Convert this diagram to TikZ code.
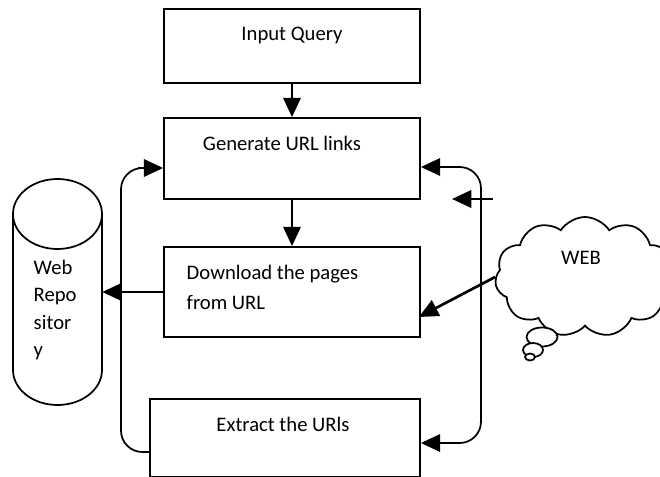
\documentclass[tikz,border=0pt]{standalone}
\usepackage{fontspec}
\setmainfont{Carlito}
\usetikzlibrary{arrows.meta,shapes.symbols,calc}
\begin{document}
\begin{tikzpicture}[x=0.75pt,y=-0.75pt,
  box/.style={draw, line width=1.3pt, rectangle, inner sep=0pt},
  lbl/.style={font=\fontsize{15.5}{23}\selectfont},
  arr/.style={line width=2pt, -{Triangle[length=14.5pt,width=13pt]}},
  loopline/.style={line width=1.3pt, rounded corners=16pt}]
\useasboundingbox (0,0) rectangle (660,477);
% boxes
\node[box, minimum width=192pt, minimum height=55.5pt,
  label={[lbl, yshift=8pt]center:Input Query}] (iq) at (292,46) {};
\node[box, minimum width=192pt, minimum height=60.75pt,
  label={[lbl, yshift=11.5pt, xshift=-7.5pt]center:Generate URL links}] (gen) at (292,158.5) {};
\node[box, minimum width=192pt, minimum height=67.5pt] (dl) at (292,292) {};
\node[lbl, align=left, anchor=west] (dltext) at (182,287.5) {Download the pages\\from URL};
\node[box, minimum width=202.5pt, minimum height=58.5pt,
  label={[lbl, yshift=10pt, xshift=-1.5pt]center:Extract the URls}] (ext) at (285,438) {};
% repository
\node[minimum width=66.75pt, minimum height=169.5pt, inner sep=0pt] (repo) at (57.5,292) {};
\draw[line width=1.3pt] (57.5,214) ellipse [x radius=44.5, y radius=35];
\draw[line width=1.3pt] (13,214) -- (13,370) arc[start angle=180, end angle=0, x radius=44.5, y radius=35] -- (102,214);
\node[lbl, align=left, anchor=west, font=\fontsize{15.5}{20.5}\selectfont] (repotext) at (29,310) {Web\\Repo\\sitor\\y};
% cloud
\node[cloud, draw, line width=1.3pt, fill=white, cloud puffs=11, cloud puff arc=115,
  cloud ignores aspect, minimum width=135pt, minimum height=90pt,
  label={[lbl, yshift=14pt, xshift=-3pt]center:WEB}] (web) at (585,277) {};
\draw[line width=1.3pt, fill=white] (542,337) ellipse [x radius=15.5, y radius=9.5];
\draw[line width=1.3pt, fill=white] (533,350) ellipse [x radius=10, y radius=7];
\draw[line width=1.3pt, fill=white] (530,357) ellipse [x radius=5, y radius=3.5];
% arrows
\draw[arr] (iq) -- (gen);
\draw[arr] (gen) -- (dl);
\draw[arr] (dl.west) -- (repo.east);
\draw[arr] (web.west) -- ($(dl.east)+(-2,25)$);
\coordinate (sa) at (493,199);
\coordinate (sb) at (452,199);
\draw[arr] (sa) -- (sb);
% loops
\draw[loopline] ($(ext.west)+(0,14)$) -- (121,452) -- (121,168) -- (140,168);
\draw[arr] (138,168) -- ($(gen.west)+(0,9.5)$);
\draw[loopline] (440,167) -- (481,167) -- (481,443) -- (440,443);
\draw[arr] (442,167) -- ($(gen.east)+(0,8.5)$);
\draw[arr] (442,443) -- ($(ext.east)+(0,5)$);
\end{tikzpicture}
\end{document}
